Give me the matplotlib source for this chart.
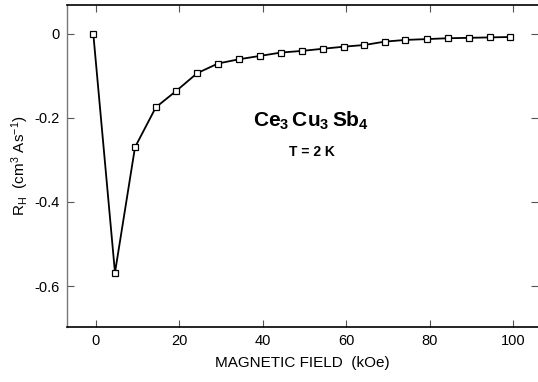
#!/usr/bin/env python3
"""
Hall coefficient of Ce3Cu3Sb4 vs magnetic field at T = 2 K.
"""

import matplotlib
matplotlib.use("Agg")
import matplotlib.pyplot as plt

plt.rcParams["font.family"] = ["Liberation Sans", "DejaVu Sans"]
plt.rcParams["mathtext.fontset"] = "custom"
plt.rcParams["mathtext.rm"] = "Liberation Sans"
plt.rcParams["mathtext.bf"] = "Liberation Sans:bold"
plt.rcParams["mathtext.default"] = "regular"
plt.rcParams["axes.unicode_minus"] = False

# data
field = [-0.6, 4.6, 9.4, 14.4, 19.3, 24.3, 29.3, 34.3, 39.3, 44.4, 49.5,
         54.4, 59.5, 64.4, 69.3, 74.2, 79.3, 84.4, 89.4, 94.4, 99.3]
r_hall = [0.0, -0.568, -0.270, -0.175, -0.136, -0.094, -0.071, -0.061,
          -0.053, -0.045, -0.041, -0.036, -0.031, -0.027, -0.019, -0.015,
          -0.013, -0.011, -0.010, -0.009, -0.008]

x_ticks = [0, 20, 40, 60, 80, 100]
y_ticks = [0, -0.2, -0.4, -0.6]
y_tick_labels = ["0", "-0.2", "-0.4", "-0.6"]

fig = plt.figure(figsize=(5.38, 3.82), dpi=100)
ax = fig.add_axes([67 / 538, 55 / 382, 471 / 538, 322 / 382])

ax.plot(field, r_hall, color="black", lw=1.3, marker="s", ms=5,
        mfc="white", mec="black", mew=0.9)

ax.set_xlim(-6.9, 106.0)
ax.set_ylim(-0.697, 0.068)
ax.set_xticks(x_ticks)
ax.set_yticks(y_ticks)
ax.set_yticklabels(y_tick_labels)

ax.tick_params(direction="in", length=5, width=0.8, color="#555555",
               top=True, right=True, labelsize=10.5, pad=5)

for side in ["top", "bottom"]:
    ax.spines[side].set_linewidth(1.2)
ax.spines["left"].set_color("#777777")
ax.spines["left"].set_linewidth(1.0)
ax.spines["right"].set_visible(False)

ax.set_xlabel("MAGNETIC FIELD  (kOe)", fontsize=11, labelpad=6)
ax.set_ylabel(r"R$_{H}$  (cm$^{3}$ As$^{-1}$)", fontsize=11, labelpad=3)

ax.text(51.6, -0.207, r"$\mathbf{Ce_3\,Cu_3\,Sb_4}$", fontsize=15,
        ha="center", va="center")
ax.text(51.9, -0.281, "T = 2 K", fontsize=10, fontweight="bold",
        ha="center", va="center")

fig.savefig("out.png", dpi=100)
